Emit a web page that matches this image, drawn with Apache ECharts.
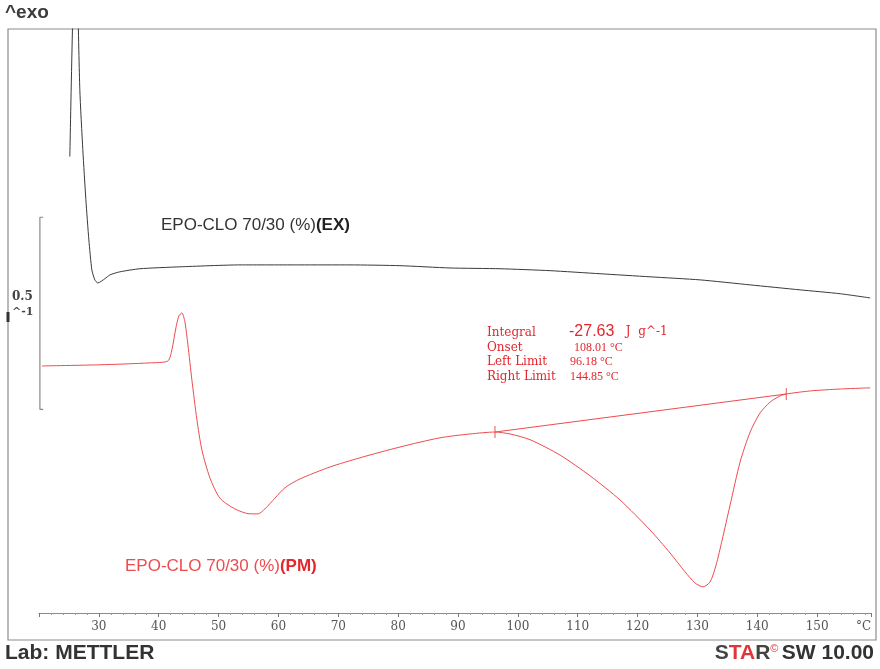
<!DOCTYPE html>
<html>
<head>
<meta charset="utf-8">
<title>EPO-CLO 70/30 DSC</title>
<script src="https://cdn.jsdelivr.net/npm/echarts@6/dist/echarts.min.js"></script>
<style>
  html, body { margin: 0; padding: 0; background: #fff; }
  #chart { width: 880px; height: 669px; }
</style>
</head>
<body>
<div id="chart"></div>
<script>
// Temperature (°C) and heat flow (W g^-1, shifted) for the extruded sample
const tempEX = [25.15, 26.1, 26.82, 27.32, 27.83, 28.33, 28.83, 29.33, 29.83, 31.0, 31.84, 33.51,
  36.85, 43.54, 53.57, 63.6, 71.95, 80.31, 88.67, 97.02, 105.38, 113.74, 122.09, 130.45,
  138.81, 147.16, 153.85, 158.87];
const heatEX = [1.188, 1.80, 1.362, 1.206, 1.076, 0.971, 0.893, 0.867, 0.859, 0.870, 0.880, 0.888,
  0.896, 0.901, 0.906, 0.906, 0.906, 0.904, 0.898, 0.896, 0.891, 0.883, 0.875, 0.867,
  0.854, 0.841, 0.831, 0.820];

// Temperature (°C) and heat flow (W g^-1, shifted) for the physical mixture
const tempPM = [20.47, 30.17, 38.52, 41.53, 42.2, 42.87, 43.37, 43.87, 44.37, 44.88, 45.54, 46.38,
  47.22, 48.55, 50.22, 52.73, 55.24, 56.58, 57.75, 59.42, 61.09, 63.6, 68.61, 73.62, 80.31,
  86.99, 92.01, 96.18, 98.69, 102.04, 107.05, 112.07, 117.08, 122.09, 125.44, 127.94, 129.61,
  130.95, 132.12, 133.12, 134.13, 135.46, 137.13, 138.81, 140.48, 142.15, 143.82, 144.85,
  148.86, 153.85, 158.87];
const heatPM = [0.643, 0.646, 0.651, 0.656, 0.685, 0.742, 0.773, 0.781, 0.758, 0.698, 0.607, 0.503,
  0.424, 0.352, 0.299, 0.271, 0.258, 0.258, 0.271, 0.299, 0.326, 0.349, 0.380, 0.404, 0.432,
  0.456, 0.466, 0.471, 0.466, 0.451, 0.411, 0.357, 0.294, 0.216, 0.156, 0.107, 0.078,
  0.068, 0.081, 0.125, 0.190, 0.281, 0.393, 0.471, 0.521, 0.549, 0.565, 0.570,
  0.578, 0.583, 0.586];

// Peak evaluation of the melting endotherm
const integralValue = -27.63;
const onsetTemp = 108.01;
const leftLimit = 96.18;
const rightLimit = 144.85;
const leftLimitHeat = 0.471;
const rightLimitHeat = 0.570;

// Axis range and vertical scale bar (0.5 W g^-1)
const tempMin = 20;
const tempMax = 159;
const tempLabelMin = 30;
const tempLabelMax = 150;
const heatMin = 0;
const heatMax = 1.52;
const scaleBarLow = 0.53;
const scaleBarHigh = 1.03;

const zip = (a, b) => a.map((v, i) => [v, b[i]]);

const RED = '#ee4b4f';
const RED_TEXT = '#e5262c';
const SANS = 'Liberation Sans, Arial, sans-serif';
const SERIF = 'DejaVu Serif, serif';
const TIMES = 'Liberation Serif, serif';

const chart = echarts.init(document.getElementById('chart'), null, { renderer: 'canvas' });

chart.setOption({
  animation: false,
  backgroundColor: '#ffffff',
  grid: { left: 39, right: 9, top: 29, bottom: 56, containLabel: false },
  xAxis: {
    type: 'value',
    min: tempMin,
    max: tempMax,
    interval: 10,
    axisLine: { show: true, lineStyle: { color: '#8a8a8a', width: 1 } },
    axisTick: { show: true, length: 4, lineStyle: { color: '#777' } },
    minorTick: { show: true, splitNumber: 5, length: 2, lineStyle: { color: '#999' } },
    splitLine: { show: false },
    axisLabel: {
      color: '#555', fontFamily: SERIF, fontSize: 12, margin: 8,
      formatter: v => (v >= tempLabelMin && v <= tempLabelMax) ? String(v) : ''
    }
  },
  yAxis: { type: 'value', min: heatMin, max: heatMax, show: false },
  series: [
    {
      name: 'EX', type: 'line', data: zip(tempEX, heatEX),
      showSymbol: false, smooth: 0.2, clip: true,
      lineStyle: { color: '#3a3a3a', width: 1 }
    },
    {
      name: 'PM', type: 'line', data: zip(tempPM, heatPM),
      showSymbol: false, smooth: 0.25, clip: true,
      lineStyle: { color: RED, width: 1 }
    },
    {
      // integration baseline between the evaluation limits
      name: 'baseline', type: 'line',
      data: [[leftLimit, leftLimitHeat], [rightLimit, rightLimitHeat]],
      showSymbol: false, lineStyle: { color: RED, width: 1 }
    },
    {
      // limit markers
      name: 'limits', type: 'scatter',
      data: [[leftLimit, leftLimitHeat], [rightLimit, rightLimitHeat]],
      symbol: 'rect', symbolSize: [1.2, 12], itemStyle: { color: RED }
    },
    {
      // 0.5 W g^-1 scale bar
      name: 'scale', type: 'line',
      data: [[20.7, scaleBarHigh], [tempMin + 0.15, scaleBarHigh], [tempMin + 0.15, scaleBarLow], [20.7, scaleBarLow]],
      showSymbol: false, clip: false,
      lineStyle: { color: '#888', width: 1.2 }
    }
  ],
  graphic: [
    // outer frame
    { type: 'rect', shape: { x: 8, y: 29, width: 868, height: 611 },
      style: { fill: null, stroke: '#8c8c8c', lineWidth: 1.2 }, silent: true },
    { type: 'line', shape: { x1: 8, y1: 312, x2: 8, y2: 322 },
      style: { stroke: '#333', lineWidth: 3 } },
    { type: 'text', left: 5, top: 3,
      style: { text: '^exo', font: 'bold 19px ' + SANS, fill: '#3c3c3c' } },
    { type: 'text', left: 12, top: 291,
      style: { text: '0.5', font: 'bold 12px ' + SERIF, fill: '#444' } },
    { type: 'text', left: 12, top: 307,
      style: { text: '^-1', font: 'bold 11px ' + SERIF, fill: '#444' } },
    { type: 'text', left: 856, top: 621,
      style: { text: '°C', font: '12px ' + SERIF, fill: '#555' } },
    // sample labels
    { type: 'text', left: 161, top: 217,
      style: {
        text: '{n|EPO-CLO 70/30 (%)}{b|(EX)}',
        rich: {
          n: { font: '17px ' + SANS, fill: '#333' },
          b: { font: 'bold 17px ' + SANS, fill: '#222' }
        }
      } },
    { type: 'text', left: 125, top: 558,
      style: {
        text: '{n|EPO-CLO 70/30 (%)}{b|(PM)}',
        rich: {
          n: { font: '17px ' + SANS, fill: RED },
          b: { font: 'bold 17px ' + SANS, fill: RED_TEXT }
        }
      } },
    // peak evaluation results
    { type: 'text', left: 487, top: 327,
      style: { text: 'Integral', font: '12px ' + SERIF, fill: RED_TEXT } },
    { type: 'text', left: 487, top: 342,
      style: { text: 'Onset', font: '12px ' + SERIF, fill: RED_TEXT } },
    { type: 'text', left: 487, top: 356,
      style: { text: 'Left Limit', font: '12px ' + SERIF, fill: RED_TEXT } },
    { type: 'text', left: 487, top: 371,
      style: { text: 'Right Limit', font: '12px ' + SERIF, fill: RED_TEXT } },
    { type: 'text', left: 569, top: 324,
      style: {
        text: '{v|' + integralValue.toFixed(2) + '}{u|   J  g^-1}',
        rich: {
          v: { font: '16px ' + SANS, fill: RED_TEXT },
          u: { font: '12px ' + SERIF, fill: RED_TEXT }
        }
      } },
    { type: 'text', left: 574, top: 342,
      style: { text: onsetTemp.toFixed(2) + ' °C', font: '12px ' + TIMES, fill: RED_TEXT } },
    { type: 'text', left: 570, top: 356,
      style: { text: leftLimit.toFixed(2) + ' °C', font: '12px ' + TIMES, fill: RED_TEXT } },
    { type: 'text', left: 570, top: 371,
      style: { text: rightLimit.toFixed(2) + ' °C', font: '12px ' + TIMES, fill: RED_TEXT } },
    // footer
    { type: 'text', left: 5, top: 643,
      style: { text: 'Lab: METTLER', font: 'bold 21px ' + SANS, fill: '#333' } },
    { type: 'text', right: 6, top: 643,
      style: {
        text: '{s|S}{t|TA}{r|R}{c|©} {w|SW 10.00}',
        rich: {
          s: { font: 'bold 21px ' + SANS, fill: '#444' },
          t: { font: 'bold 21px ' + SANS, fill: '#e0363b' },
          r: { font: 'bold 21px ' + SANS, fill: '#444' },
          c: { font: '11px ' + SANS, fill: '#e0363b', verticalAlign: 'top' },
          w: { font: 'bold 21px ' + SANS, fill: '#333' }
        }
      } }
  ]
});
</script>
</body>
</html>
